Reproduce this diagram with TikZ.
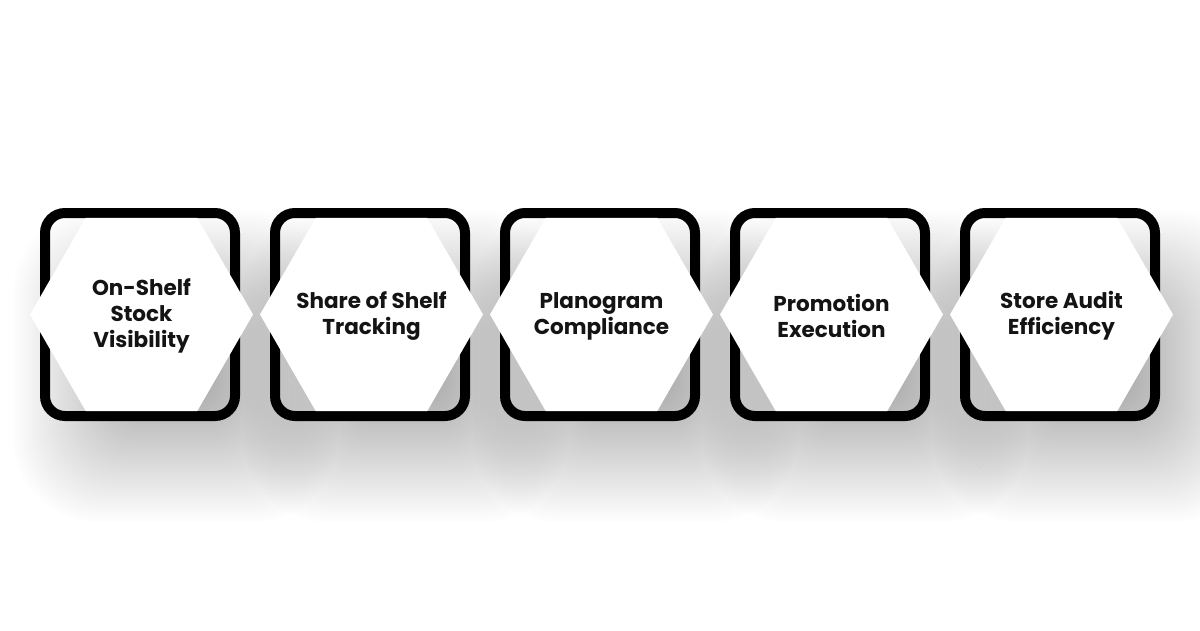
\documentclass[tikz,border=0pt]{standalone}
\usepackage{fontspec}
\setmainfont{Poppins}
\begin{document}
\begin{tikzpicture}[x=1pt,y=-1pt,
  framebox/.style={draw=black, line width=10pt, rounded corners=20pt,
    minimum width=190pt, minimum height=203pt, inner sep=0pt},
  hexfill/.style={fill=white},
  label/.style={align=center, font=\bfseries\fontsize{21.5}{26}\selectfont, text=black!92}]
\useasboundingbox (0,0) rectangle (1200,630);
\fill[white] (0,0) rectangle (1200,630);
% soft shadows
\foreach \k in {0,...,4}{
  \pgfmathsetmacro{\L}{40+230*\k}
  \foreach \i in {0,...,39}{
    \pgfmathsetmacro{\d}{-65+130*\i/40}
    \pgfmathsetmacro{\rc}{20+0.5*(\d+65)}
    \fill[black, opacity=0.0085, rounded corners=\rc pt]
      ({\L+35-\d},{272-\d}) rectangle ({\L+235+\d},{460+\d});
  }
}
% frames
\foreach \k in {1,...,5}{
  \node[framebox] (b\k) at ({140+230*(\k-1)},314.5) {};
}
% hexagons
\foreach \k in {1,...,5}{
  \coordinate (c\k) at ({141.5+230*(\k-1)},314.5);
  \fill[hexfill] (c\k) +(0:111.5) -- +(60:111.5) -- +(120:111.5) -- +(180:111.5)
    -- +(240:111.5) -- +(300:111.5) -- cycle;
}
\node[label] (t1) at ([yshift=-1.5pt]c1) {On-Shelf\\Stock\\Visibility};
\node[label] (t2) at ([yshift=-1.5pt]c2) {Share of Shelf\\Tracking};
\node[label] (t3) at ([yshift=-1.5pt]c3) {Planogram\\Compliance};
\node[label] (t4) at ([yshift=-1.5pt]c4) {Promotion\\Execution};
\node[label] (t5) at ([yshift=-1.5pt]c5) {Store Audit\\Efficiency};
\end{tikzpicture}
\end{document}
